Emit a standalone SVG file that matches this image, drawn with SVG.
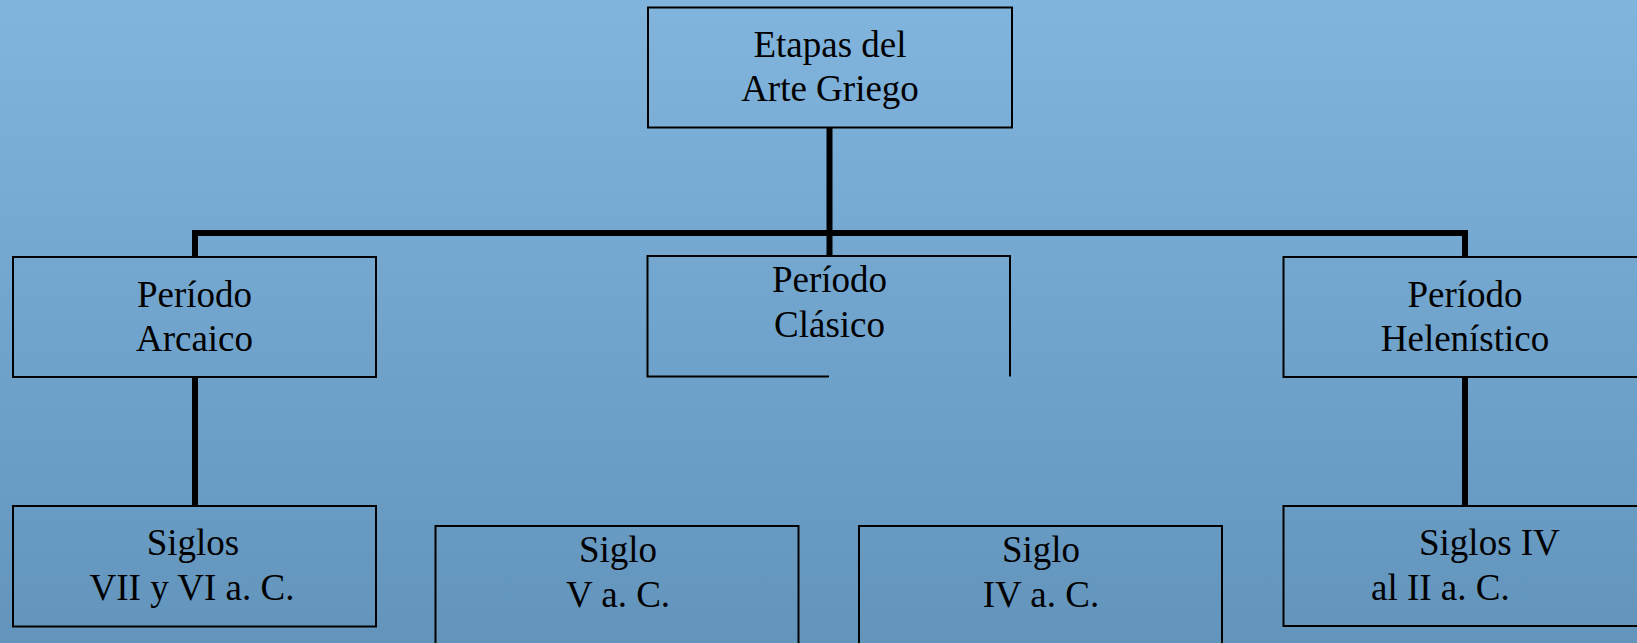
<svg xmlns="http://www.w3.org/2000/svg" width="1637" height="643" viewBox="0 0 1637 643">
<defs>
<linearGradient id="bg" x1="0" y1="0" x2="0" y2="1">
<stop offset="0" stop-color="#81B5DD"/>
<stop offset="1" stop-color="#6294BC"/>
</linearGradient>
<style>
.box{fill:none;stroke:#000;stroke-width:2}
.conn{fill:none;stroke:#000;stroke-width:6;stroke-linejoin:miter}
text{font-family:"Liberation Serif","Times New Roman",serif;font-size:37px;fill:#000}
.c{text-anchor:middle}
</style>
</defs>
<rect x="0" y="0" width="1637" height="643" fill="url(#bg)"/>
<g id="connectors">
<line class="conn" x1="829.5" y1="128" x2="829.5" y2="256"/>
<path class="conn" d="M195,257 V233 H1465 V257"/>
<line class="conn" x1="195" y1="377" x2="195" y2="506"/>
<line class="conn" x1="1465" y1="377" x2="1465" y2="506"/>
</g>
<g id="n-root">
<rect class="box" x="648" y="7.5" width="364" height="120"/>
<text class="c" x="830" y="57">Etapas del</text>
<text class="c" x="830" y="101">Arte Griego</text>
</g>
<g id="n-arcaico">
<rect class="box" x="13" y="257" width="363" height="120"/>
<text class="c" x="194.5" y="307">Período</text>
<text class="c" x="194.5" y="351">Arcaico</text>
</g>
<g id="n-clasico">
<path class="box" d="M829,376.5 H647.5 V256 H1010 V376.5"/>
<text class="c" x="829.5" y="291.5">Período</text>
<text class="c" x="829.5" y="337">Clásico</text>
</g>
<g id="n-helenistico">
<rect class="box" x="1283.5" y="257" width="364" height="120"/>
<text class="c" x="1465" y="307">Período</text>
<text class="c" x="1465" y="351">Helenístico</text>
</g>
<g id="n-siglos-arcaico">
<rect class="box" x="13" y="506" width="363" height="120.5"/>
<text class="c" x="193" y="555">Siglos</text>
<text class="c" x="192" y="600">VII y VI a. C.</text>
</g>
<g id="n-siglo-v">
<rect class="box" x="435.5" y="526" width="363" height="121"/>
<text class="c" x="618" y="561.5">Siglo</text>
<text class="c" x="618" y="607">V a. C.</text>
</g>
<g id="n-siglo-iv">
<rect class="box" x="859" y="526" width="363" height="121"/>
<text class="c" x="1041" y="561.5">Siglo</text>
<text class="c" x="1041" y="607">IV a. C.</text>
</g>
<g id="n-siglos-helenistico">
<rect class="box" x="1283.5" y="506" width="364" height="120"/>
<text x="1419" y="555">Siglos IV</text>
<text x="1371" y="600">al II a. C.</text>
</g>
</svg>
